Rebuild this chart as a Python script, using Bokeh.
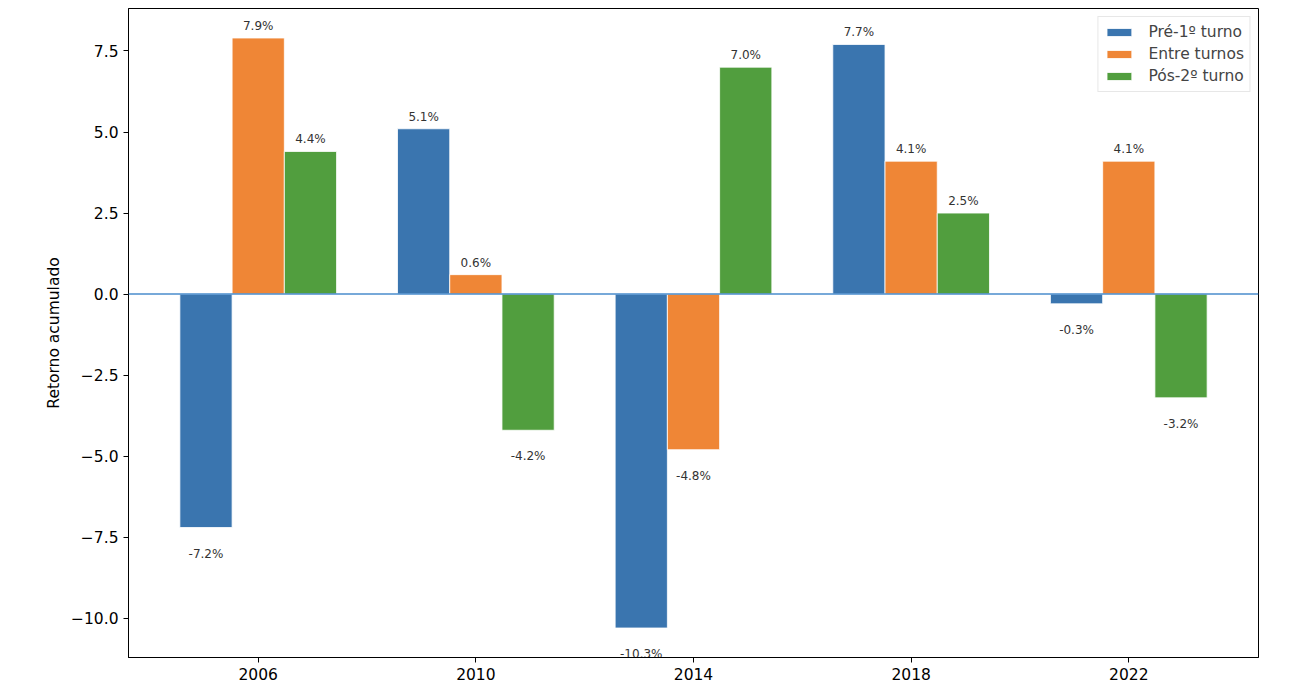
from bokeh.plotting import figure
from bokeh.models import ColumnDataSource, Range1d, FixedTicker, Span, CustomJSTickFormatter
from bokeh.core.properties import value
from bokeh.embed import file_html
from bokeh.resources import INLINE

# data
years = ["2006", "2010", "2014", "2018", "2022"]
series_names = ["Pré-1º turno", "Entre turnos", "Pós-2º turno"]
pre_1turno = [-7.2, 5.1, -10.3, 7.7, -0.3]
entre_turnos = [7.9, 0.6, -4.8, 4.1, 4.1]
pos_2turno = [4.4, -4.2, 7.0, 2.5, -3.2]

colors = ["#3a75af", "#ef8636", "#519e3e"]
FONT = "DejaVu Sans"
BAR_W = 0.24

p = figure(width=1294, height=688, output_backend="svg", toolbar_location=None,
           x_range=Range1d(-0.596, 4.596), y_range=Range1d(-11.21, 8.81),
           min_border_left=128, min_border_right=36, min_border_top=8, min_border_bottom=31)

p.xgrid.visible = False
p.ygrid.visible = False
p.outline_line_color = "black"
p.outline_line_width = 1
p.background_fill_color = "white"

all_series = [pre_1turno, entre_turnos, pos_2turno]
for i, (name, vals) in enumerate(zip(series_names, all_series)):
    xs = [j + (i - 1) * BAR_W for j in range(len(years))]
    src = ColumnDataSource(data={
        "x": xs,
        "top": vals,
        "lbl": [f"{v:.1f}%" for v in vals],
        "off": [-12 if v >= 0 else 26 for v in vals],
    })
    p.vbar(x="x", top="top", bottom=0, width=BAR_W, source=src, fill_color=colors[i],
           line_color="white", line_width=0.8, legend_label=name)
    p.text(x="x", y="top", text="lbl", source=src, y_offset="off",
           text_align="center", text_baseline="middle", text_font_size="12px",
           text_color="#333333", text_font=value(FONT))

p.add_layout(Span(location=0, dimension="width", line_color="#4a8ccc", line_width=1.5))

# axes in matplotlib style
p.xaxis.ticker = FixedTicker(ticks=list(range(len(years))))
p.xaxis.major_label_overrides = {i: y for i, y in enumerate(years)}
p.yaxis.ticker = FixedTicker(ticks=[-10, -7.5, -5, -2.5, 0, 2.5, 5, 7.5])
p.yaxis.formatter = CustomJSTickFormatter(code="""
    return (tick < 0 ? "\u2212" : "") + Math.abs(tick).toFixed(1);
""")
p.yaxis.axis_label = "Retorno acumulado"
for ax in [p.xaxis[0], p.yaxis[0]]:
    ax.axis_line_color = "black"
    ax.major_tick_line_color = "black"
    ax.major_tick_out = 5
    ax.major_tick_in = 0
    ax.minor_tick_line_color = None
    ax.major_label_text_font = FONT
    ax.major_label_text_font_size = "15.5px"
    ax.major_label_text_color = "black"
    ax.axis_label_text_font = FONT
    ax.axis_label_text_font_size = "15.5px"
    ax.axis_label_text_font_style = "normal"
    ax.axis_label_text_color = "black"

p.legend.location = "top_right"
p.legend.margin = 8
p.legend.padding = 5
p.legend.spacing = 2
p.legend.label_height = 20
p.legend.glyph_width = 31
p.legend.glyph_height = 10
p.legend.label_standoff = 14
p.legend.label_text_font = FONT
p.legend.label_text_font_size = "15.5px"
p.legend.border_line_color = "#d0d0d0"
p.legend.background_fill_alpha = 0.8

open("out.html", "w").write(file_html(p, INLINE))
